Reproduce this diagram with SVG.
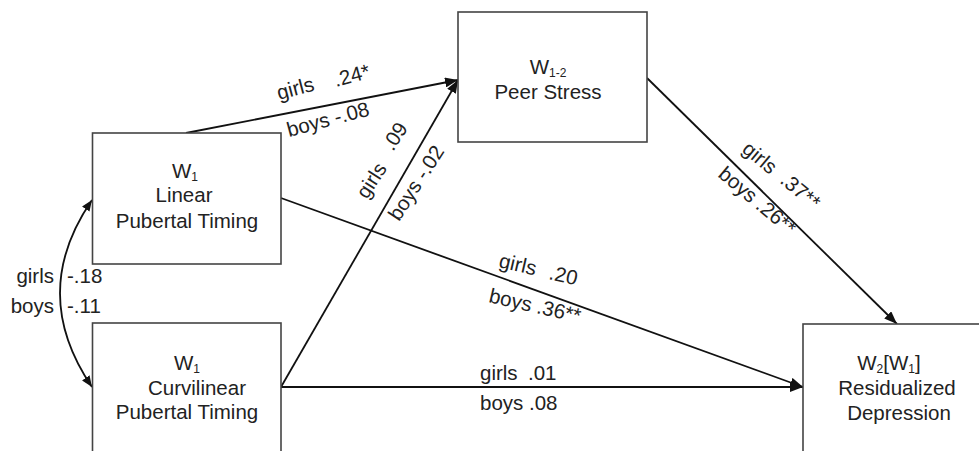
<svg xmlns="http://www.w3.org/2000/svg" width="979" height="451" viewBox="0 0 979 451">
<style>
  text { font-family: "Liberation Sans", Arial, sans-serif; font-size: 20.5px; fill: #222; }
  .c { text-anchor: middle; }
  .sub { font-size: 12px; }
  .box { fill: #fff; stroke: #444; stroke-width: 1.6; }
  .ln { fill: none; stroke: #111; stroke-width: 1.8; }
</style>
<defs>
  <marker id="ah" markerUnits="userSpaceOnUse" markerWidth="14" markerHeight="10" refX="13" refY="5" orient="auto">
    <path d="M0,0 L13,5 L0,10 z" fill="#111"/>
  </marker>
  <marker id="ah2" markerUnits="userSpaceOnUse" markerWidth="12" markerHeight="9" refX="11" refY="4.5" orient="auto-start-reverse">
    <path d="M0,0 L11,4.5 L0,9 z" fill="#111"/>
  </marker>
</defs>
<rect width="979" height="451" fill="#fff"/>

<g id="connectors">
  <path class="ln" d="M186,133 L458,80" marker-end="url(#ah)"/>
  <path class="ln" d="M281,387 L458,80" marker-end="url(#ah)"/>
  <path class="ln" d="M281,198 L803,387" marker-end="url(#ah)"/>
  <path class="ln" d="M281,387 L803,387" marker-end="url(#ah)"/>
  <path class="ln" d="M647,78 L897,324" marker-end="url(#ah)"/>
  <path class="ln" d="M92,200 Q28,293 92,387" marker-start="url(#ah2)" marker-end="url(#ah2)"/>

  <text x="54" y="283" text-anchor="end">girls</text>
  <text x="67" y="283">-.18</text>
  <text x="54" y="313" text-anchor="end">boys</text>
  <text x="67" y="313">-.11</text>

  <text transform="translate(279,100) rotate(-15)">girls</text>
  <text transform="translate(336,87) rotate(-15)">.24*</text>
  <text transform="translate(289,137) rotate(-15)">boys -.08</text>

  <text transform="translate(367,200) rotate(-57)">girls</text>
  <text transform="translate(393,152) rotate(-57)">.09</text>
  <text transform="translate(399,222) rotate(-57)">boys -.02</text>

  <text transform="translate(498,267) rotate(13)">girls</text>
  <text transform="translate(548,279) rotate(13)">.20</text>
  <text transform="translate(488,302) rotate(13)">boys .36**</text>

  <text x="480" y="380">girls</text>
  <text x="528" y="380">.01</text>
  <text x="480" y="410">boys .08</text>

  <text transform="translate(741,151) rotate(40)">girls</text>
  <text transform="translate(779,182) rotate(40)">.37**</text>
  <text transform="translate(717,176) rotate(40)">boys .26**</text>
</g>

<g id="linear">
  <rect class="box" x="92.5" y="133" width="188.5" height="131"/>
  <text class="c" x="185" y="178">W<tspan class="sub" dy="2.5">1</tspan></text>
  <text class="c" x="184" y="202">Linear</text>
  <text class="c" x="187" y="228">Pubertal Timing</text>
</g>

<g id="curvilinear">
  <rect class="box" x="92.5" y="323" width="188.5" height="200"/>
  <text class="c" x="187" y="370">W<tspan class="sub" dy="2.5">1</tspan></text>
  <text class="c" x="197" y="395">Curvilinear</text>
  <text class="c" x="187" y="419">Pubertal Timing</text>
</g>

<g id="peer">
  <rect class="box" x="458" y="12" width="189" height="130"/>
  <text class="c" x="548" y="74">W<tspan class="sub" dy="2.5">1-2</tspan></text>
  <text class="c" x="548" y="99">Peer Stress</text>
</g>

<g id="depression">
  <rect class="box" x="803" y="324" width="200" height="200"/>
  <text class="c" x="889" y="370">W<tspan class="sub" dy="2.5">2</tspan><tspan dy="-2.5">[W</tspan><tspan class="sub" dy="2.5">1</tspan><tspan dy="-2.5">]</tspan></text>
  <text class="c" x="897" y="395">Residualized</text>
  <text class="c" x="899" y="420">Depression</text>
</g>
</svg>
